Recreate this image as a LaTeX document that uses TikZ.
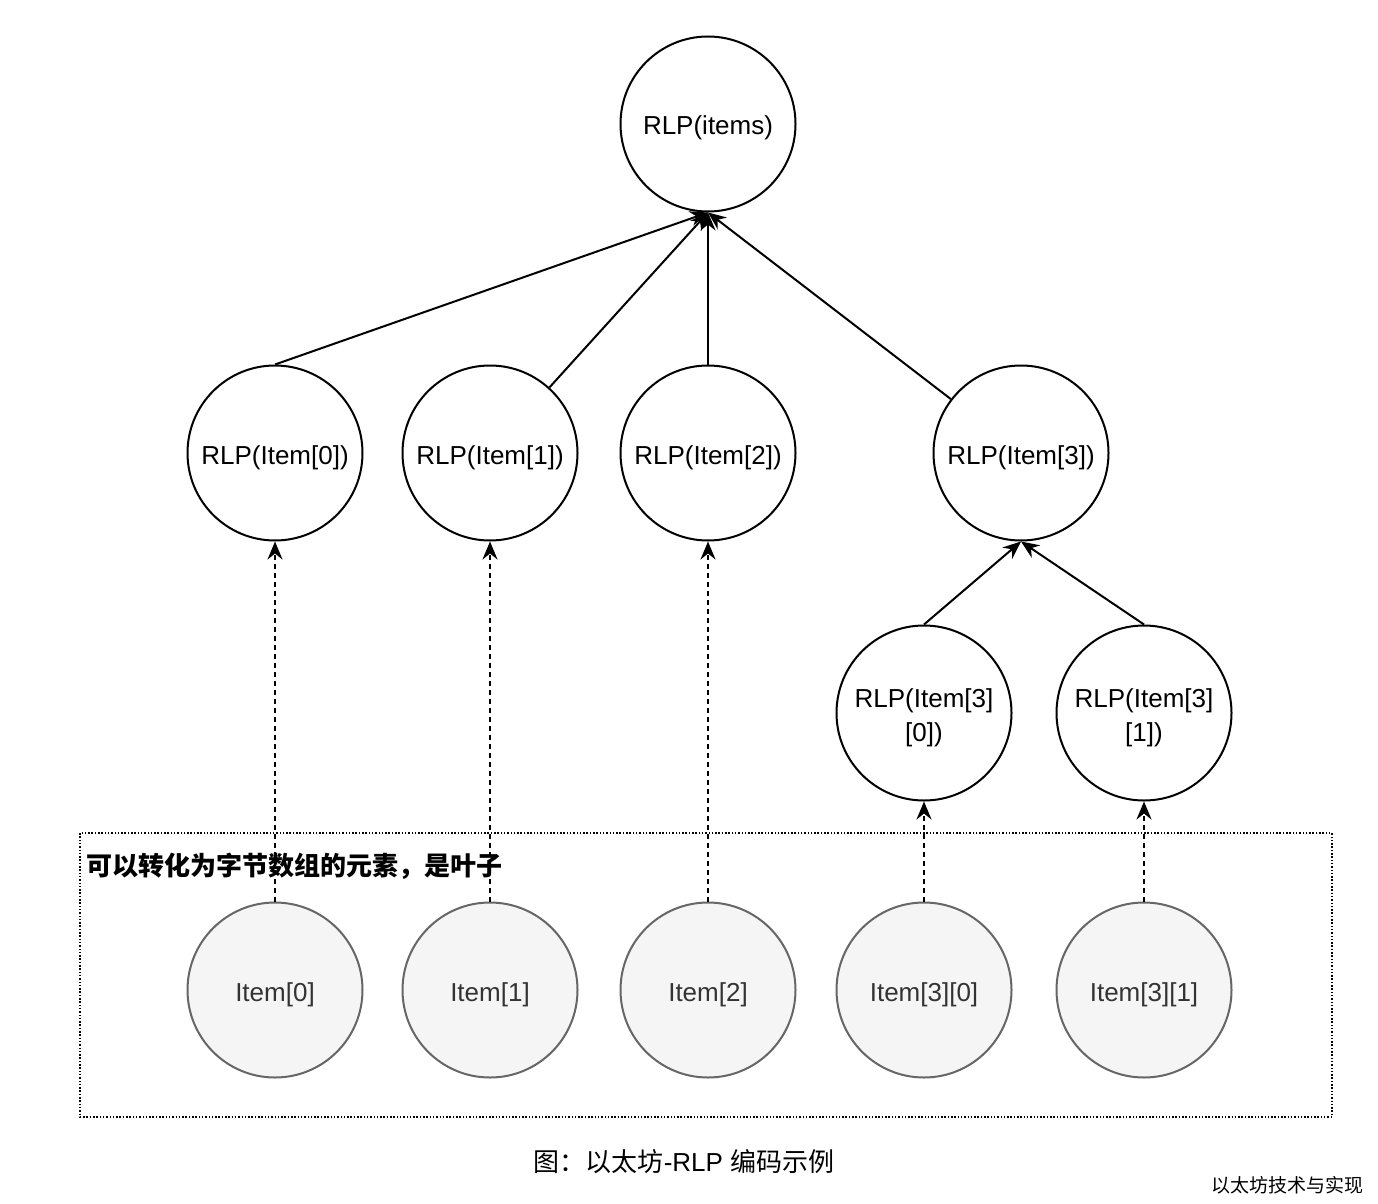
\documentclass[tikz,border=0pt]{standalone}
\usepackage{fontspec}
\setmainfont{Liberation Sans}
\newfontfamily\cjk{Noto Sans CJK SC}
\usetikzlibrary{arrows.meta}
\definecolor{leafline}{HTML}{666666}
\definecolor{leaffill}{HTML}{F5F5F5}
\definecolor{leaftext}{HTML}{333333}
\begin{document}
\begin{tikzpicture}[x=1pt,y=-1pt,
  every node/.style={font=\fontsize{26}{31}\selectfont},
  rlp/.style={circle, draw=black, line width=2pt, minimum size=175pt, inner sep=0pt, align=center, text height=24pt, text depth=2pt},
  rlptwo/.style={rlp, font=\fontsize{26}{34}\selectfont, text height=58pt, text depth=2pt},
  leaf/.style={circle, draw=leafline, fill=leaffill, line width=2pt, minimum size=175pt, inner sep=0pt, text=leaftext, text height=24pt, text depth=2pt},
  link/.style={line width=2pt, -{Stealth[length=18pt,width=15pt,inset=6pt]}},
  dlink/.style={link, dash pattern=on 5pt off 4pt},
  boxstyle/.style={line width=1.5pt, dash pattern=on 1.5pt off 1.8pt},
]
\useasboundingbox (0,0) rectangle (1378,1204);
\fill[white] (0,0) rectangle (1378,1204);

% dotted group box
\draw[boxstyle] (80,833) rectangle (1332,1117);
\node[anchor=west, font=\fontsize{26}{31}\selectfont\cjk\bfseries] (lbl) at (83,866) {可以转化为字节数组的元素，是叶子};

% nodes
\node[rlp] (items) at (708,124) {RLP(items)};
\node[rlp] (r0) at (275,453) {RLP(Item[0])};
\node[rlp] (r1) at (490,453) {RLP(Item[1])};
\node[rlp] (r2) at (708,453) {RLP(Item[2])};
\node[rlp] (r3) at (1021,453) {RLP(Item[3])};
\node[rlptwo] (r30) at (924,713) {RLP(Item[3]\\{[0]})};
\node[rlptwo] (r31) at (1144,713) {RLP(Item[3]\\{[1]})};

\node[leaf] (l0) at (275,990) {Item[0]};
\node[leaf] (l1) at (490,990) {Item[1]};
\node[leaf] (l2) at (708,990) {Item[2]};
\node[leaf] (l30) at (924,990) {Item[3][0]};
\node[leaf] (l31) at (1144,990) {Item[3][1]};

% edges
\draw[link] (r0.north) -- (items.south);
\draw[link] (r1) -- (items.south);
\draw[link] (r2.north) -- (items.south);
\draw[link] (r3) -- (items.south);
\draw[link] (r30.north) -- (r3.south);
\draw[link] (r31.north) -- (r3.south);

\draw[dlink] (l0.north) -- (r0.south);
\draw[dlink] (l1.north) -- (r1.south);
\draw[dlink] (l2.north) -- (r2.south);
\draw[dlink] (l30.north) -- (r30.south);
\draw[dlink] (l31.north) -- (r31.south);

% captions
\node (cap) at (684,1162) {{\cjk 图：以太坊}-RLP {\cjk 编码示例}};
\node[font=\fontsize{19}{22}\selectfont\cjk] (wm) at (1287,1185) {以太坊技术与实现};
\end{tikzpicture}
\end{document}
